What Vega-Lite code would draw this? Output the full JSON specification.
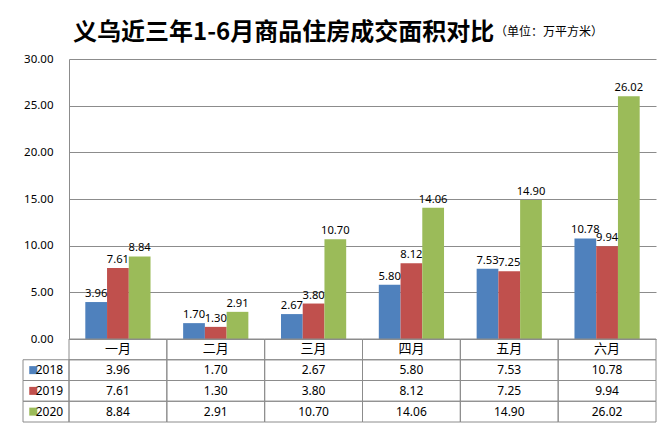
{
  "$schema": "https://vega.github.io/schema/vega-lite/v6.json",
  "background": "white",
  "padding": {"left": 22, "top": 21, "right": 10, "bottom": 5},
  "config": {"font": "Noto Sans", "view": {"stroke": null}},
  "data": {"values": [
    {"month": "一月", "year": "2018", "value": 3.96},
    {"month": "一月", "year": "2019", "value": 7.61},
    {"month": "一月", "year": "2020", "value": 8.84},
    {"month": "二月", "year": "2018", "value": 1.70},
    {"month": "二月", "year": "2019", "value": 1.30},
    {"month": "二月", "year": "2020", "value": 2.91},
    {"month": "三月", "year": "2018", "value": 2.67},
    {"month": "三月", "year": "2019", "value": 3.80},
    {"month": "三月", "year": "2020", "value": 10.70},
    {"month": "四月", "year": "2018", "value": 5.80},
    {"month": "四月", "year": "2019", "value": 8.12},
    {"month": "四月", "year": "2020", "value": 14.06},
    {"month": "五月", "year": "2018", "value": 7.53},
    {"month": "五月", "year": "2019", "value": 7.25},
    {"month": "五月", "year": "2020", "value": 14.90},
    {"month": "六月", "year": "2018", "value": 10.78},
    {"month": "六月", "year": "2019", "value": 9.94},
    {"month": "六月", "year": "2020", "value": 26.02}
  ]},
  "columns": 2,
  "spacing": 0,
  "bounds": "flush",
  "concat": [
    {
      "width": 46,
      "height": 280,
      "data": {"values": []},
      "title": {"text": "义乌近三年1-6月商品住房成交面积对比", "fontSize": 24, "fontWeight": "bold", "font": "Noto Sans CJK SC", "anchor": "start", "frame": "group", "dx": 50, "baseline": "alphabetic", "offset": -5, "color": "#000000"},
      "mark": "point"
    },
    {
      "width": 587,
      "height": 280,
      "title": {"text": "（单位：万平方米）", "fontSize": 12, "fontWeight": "normal", "font": "Noto Sans CJK SC", "anchor": "start", "frame": "group", "dx": 426, "baseline": "alphabetic", "offset": 5, "color": "#000000"},
      "encoding": {
        "x": {"field": "month", "type": "nominal", "sort": ["一月", "二月", "三月", "四月", "五月", "六月"], "scale": {"paddingInner": 0, "paddingOuter": 0}, "axis": null},
        "xOffset": {"field": "year", "type": "nominal", "scale": {"paddingInner": 0, "paddingOuter": 0.75}},
        "y": {"field": "value", "type": "quantitative", "scale": {"domain": [0, 30]},
          "axis": {"values": [0, 5, 10, 15, 20, 25, 30], "format": ".2f", "title": null, "grid": true, "gridColor": "#8c8c8c", "domainColor": "#8c8c8c", "ticks": false, "labelPadding": 16, "labelFontSize": 11.5, "labelColor": "#000000"}}
      },
      "layer": [
        {"mark": {"type": "bar"}, "encoding": {"color": {"field": "year", "type": "nominal", "scale": {"domain": ["2018", "2019", "2020"], "range": ["#4F81BD", "#C0504D", "#9BBB59"]}, "legend": null}}},
        {"mark": {"type": "text", "dy": -8, "fontSize": 11.2, "color": "#000000"}, "encoding": {"text": {"field": "value", "type": "quantitative", "format": ".2f"}}}
      ]
    },
    {
      "width": 46,
      "height": 83,
      "transform": [{"filter": "datum.month == '一月'"}],
      "encoding": {
        "y": {"field": "year", "type": "nominal", "scale": {"domain": ["m", "2018", "2019", "2020"], "paddingInner": 0, "paddingOuter": 0}, "axis": null}
      },
      "layer": [
        {"mark": {"type": "rect", "fillOpacity": 0, "stroke": "#8c8c8c", "strokeWidth": 1}},
        {"mark": {"type": "point", "shape": "square", "filled": true, "size": 64, "opacity": 1},
         "encoding": {"x": {"datum": "sq", "type": "nominal", "scale": {"type": "point", "domain": ["sq", "lbl"], "range": [9, 14]}, "axis": null},
                      "color": {"field": "year", "type": "nominal", "scale": {"domain": ["2018", "2019", "2020"], "range": ["#4F81BD", "#C0504D", "#9BBB59"]}, "legend": null}}},
        {"mark": {"type": "text", "align": "left", "fontSize": 12, "color": "#000000"},
         "encoding": {"x": {"datum": "lbl", "type": "nominal"}, "text": {"field": "year"}}}
      ]
    },
    {
      "width": 587,
      "height": 83,
      "encoding": {
        "x": {"field": "month", "type": "nominal", "sort": ["一月", "二月", "三月", "四月", "五月", "六月"], "scale": {"paddingInner": 0, "paddingOuter": 0}, "axis": null}
      },
      "layer": [
        {"mark": {"type": "rect", "fillOpacity": 0, "stroke": "#8c8c8c", "strokeWidth": 1},
         "encoding": {"y": {"field": "year", "type": "nominal", "scale": {"domain": ["m", "2018", "2019", "2020"], "paddingInner": 0, "paddingOuter": 0}, "axis": null}}},
        {"transform": [{"filter": "datum.year == '2018'"}],
         "mark": {"type": "rect", "fillOpacity": 0, "stroke": "#8c8c8c", "strokeWidth": 1},
         "encoding": {"y": {"datum": "m", "type": "nominal"}}},
        {"mark": {"type": "text", "fontSize": 12, "color": "#000000"},
         "encoding": {"y": {"field": "year", "type": "nominal"}, "text": {"field": "value", "type": "quantitative", "format": ".2f"}}},
        {"transform": [{"filter": "datum.year == '2018'"}],
         "mark": {"type": "text", "fontSize": 13, "font": "Noto Sans CJK SC", "color": "#000000"},
         "encoding": {"y": {"datum": "m", "type": "nominal"}, "text": {"field": "month"}}}
      ]
    }
  ]
}
